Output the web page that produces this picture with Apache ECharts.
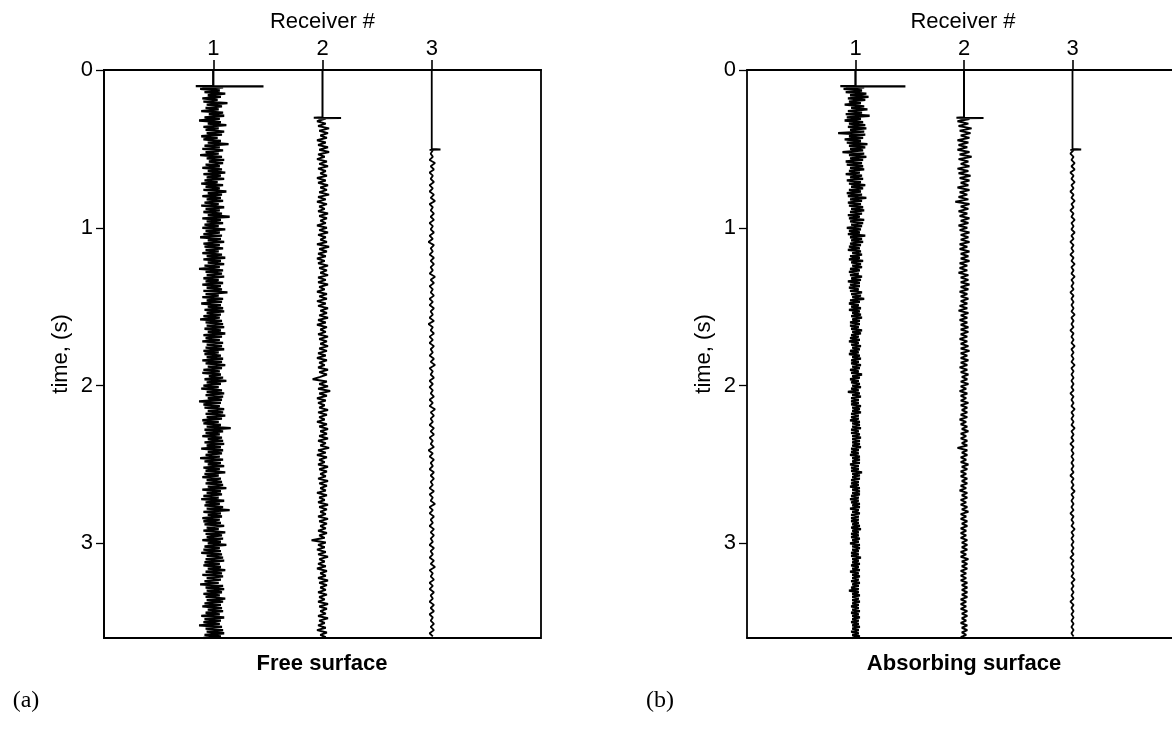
<!DOCTYPE html>
<html>
<head>
<meta charset="utf-8">
<script src="https://cdn.jsdelivr.net/npm/echarts@6/dist/echarts.min.js"></script>
<style>html,body{margin:0;padding:0;background:#fff;}#c{width:1172px;height:733px;}</style>
</head>
<body>
<div id="c"></div>
<script>
// Receivers (trace positions on the x axis) and tick labels
const receivers = [1, 2, 3];
const timeTicks = [0, 1, 2, 3];
const panelTitles = ['Free surface', 'Absorbing surface'];
const panelTags = ['(a)', '(b)'];

// First-arrival times (s) per receiver
const onsets = [0.1, 0.3, 0.5];
// Sample intervals (s) of the recorded trace after the arrival, per receiver
const sampleDt = [0.01, 0.015, 0.02];

// Pulse at first arrival (amplitude, hundredths of trace spacing)
const freePulse1 = [0, -16, 46, -10, 6];
const freePulse2 = [0, -8, 17, -4, 3];
const freePulse3 = [0, 0, 8, -2, 1];
const absPulse1 = [0, -14, 46, -9, 5];
const absPulse2 = [0, -7, 18, -4, 2];
const absPulse3 = [0, 0, 8, -2, 1];

// Trace amplitudes after the arrival (hundredths of trace spacing)
const freeTrace1 = [
 9,-12,6,-8,11,-5,7,-10,4,-9,13,-6,8,-7,5,-11,9,-4,10,-8,6,-13,7,-5,12,
 -9,5,-7,10,-6,8,-11,4,-9,7,-5,14,-8,6,-10,9,-7,5,-12,8,-6,10,-4,9,-7,
 6,-10,8,-5,11,-9,7,-6,10,-8,4,-11,9,-7,6,-9,12,-5,8,-10,7,-6,9,-8,5,
 -11,10,-7,6,-9,8,-5,15,-10,7,-6,9,-8,5,-10,11,-7,6,-9,8,-12,7,-5,10,-9,
 6,-8,9,-7,5,-10,8,-6,11,-9,7,-5,10,-8,6,-13,9,-7,8,-6,10,-9,5,-7,9,
 -10,7,-6,8,-9,13,-7,5,-10,9,-6,8,-11,7,-5,9,-8,10,-6,7,-9,6,-12,8,-7,
 9,-6,10,-8,7,-5,11,-9,8,-7,6,-10,9,-6,8,-7,10,-9,5,-8,7,-6,9,-10,8,
 -7,11,-5,8,-9,6,-10,7,-4,9,-8,12,-6,7,-9,5,-11,8,-6,10,-7,9,-5,8,-13,
 7,-9,6,-8,10,-5,9,-7,11,-6,8,-10,5,-9,7,-6,16,-8,9,-7,6,-10,8,-5,9,
 -8,10,-6,7,-11,9,-5,8,-7,6,-12,9,-8,7,-5,10,-9,6,-7,11,-8,5,-10,7,-6,
 8,-7,9,-5,12,-10,7,-6,8,-9,5,-11,10,-7,6,-8,9,-6,15,-9,7,-5,8,-10,6,
 -9,7,-8,10,-6,5,-9,11,-7,8,-6,9,-10,7,-5,12,-8,6,-9,7,-11,8,-6,9,-7,
 10,-8,6,-9,7,-5,11,-7,8,-10,9,-6,7,-8,5,-12,9,-7,10,-6,8,-9,6,-7,11,
 -6,9,-8,7,-10,8,-5,9,-7,6,-11,10,-8,7,-9,6,-13,8,-7,9,-6,10,-8,7,-9
];
const freeTrace2 = [
 4,-5,3,-4,6,-3,5,-2,4,-5,3,-4,5,-3,6,-4,2,-5,4,-3,5,-4,3,-2,4,
 -5,3,-4,5,-2,4,-3,6,-4,3,-5,4,-3,2,-4,5,-3,4,-2,3,-5,4,-3,5,-4,
 3,-2,4,-5,6,-3,4,-4,3,-5,2,-4,5,-3,4,-2,5,-4,3,-4,5,-3,2,-5,4,
 -3,4,-5,3,-4,5,-2,4,-3,5,-4,3,-5,4,-2,3,-4,5,-3,4,-2,5,-3,4,-4,
 3,-5,4,-3,2,-4,5,-3,4,-2,-9,4,-3,5,-4,7,-3,4,-5,3,-4,2,-3,5,-4,
 4,-3,2,-5,4,-3,5,-2,4,-3,5,-4,3,-2,6,-4,3,-5,4,-3,2,-4,5,-3,4,
 -2,3,-4,5,-3,4,-2,3,-5,4,-3,2,-4,5,-3,4,-2,3,-4,5,-3,4,-2,3,-4,
 4,-3,2,-10,3,-4,2,-5,3,-4,5,-3,2,-4,3,-5,4,-2,3,-4,5,-3,4,-2,3,
 -4,4,-3,2,-4,5,-3,4,-2,3,-4,5,-3,2,-4,3,-5,4,-2,3
];
const freeTrace3 = [
 2,-1,1,-2,3,-1,2,-2,1,-1,2,-2,1,-2,2,-1,3,-2,1,-1,2,-1,2,-2,1,
 -1,2,-2,1,-3,2,-1,1,-2,2,-1,2,-1,1,-2,3,-1,2,-2,1,-1,2,-2,1,-2,
 2,-1,1,-2,2,-3,1,-1,2,-2,1,-2,2,-1,1,-2,2,-1,3,-2,1,-1,2,-2,1,
 -2,1,-1,2,-2,1,-2,3,-1,2,-1,1,-2,2,-1,2,-2,1,-1,2,-3,1,-2,2,-1,
 1,-2,2,-1,2,-1,1,-2,2,-2,1,-1,3,-2,1,-2,2,-1,1,-2,2,-1,2,-1,1,
 -2,2,-1,1,-2,2,-1,3,-2,1,-1,2,-2,1,-2,2,-1,1,-2,2,-1,2,-2,1,-1,
 2,-1,2,-2,1
];
const absTrace1 = [
 8,-11,6,-9,10,-5,12,-7,9,-6,5,-10,8,-4,11,-7,6,-9,13,-8,5,-10,7,-6,9,
 -7,10,-5,8,-16,9,-6,7,-10,5,-8,11,-6,9,-5,7,-12,8,-6,10,-5,7,-9,6,-8,
 7,-5,8,-6,4,-9,6,-5,7,-8,5,-6,9,-4,7,-6,5,-8,6,-7,10,-5,6,-7,5,
 -6,7,-4,8,-5,6,-7,4,-6,8,-5,7,-4,6,-8,5,-6,4,-7,9,-5,6,-4,7,-5,
 5,-6,4,-7,5,-3,6,-5,4,-6,7,-4,5,-3,6,-5,4,-6,3,-5,6,-4,5,-7,4,
 -5,4,-6,3,-5,6,-4,5,-3,8,-5,4,-6,3,-4,5,-6,4,-3,5,-4,6,-3,4,-5,
 4,-5,3,-4,6,-3,5,-4,3,-5,4,-6,3,-4,5,-3,4,-5,3,-6,4,-3,5,-4,3,
 -4,5,-3,4,-5,3,-4,6,-3,4,-5,3,-4,4,-3,5,-4,3,-7,4,-3,5,-4,3,-4,
 3,-4,5,-3,4,-3,5,-4,3,-4,3,-5,4,-3,4,-3,5,-4,3,-4,4,-3,5,-3,4,
 -3,4,-3,5,-4,3,-4,3,-5,4,-3,4,-3,4,-5,3,-4,3,-4,6,-3,4,-3,4,-4,
 3,-4,3,-5,4,-3,4,-3,4,-4,3,-5,3,-4,4,-3,4,-5,3,-3,4,-4,3,-4,3,
 -4,3,-3,4,-4,5,-3,3,-4,3,-4,4,-3,3,-5,4,-3,4,-3,3,-4,3,-4,5,-3,
 3,-3,4,-4,3,-3,4,-5,3,-3,4,-3,3,-4,4,-3,3,-4,3,-6,3,-3,4,-3,3,
 -3,4,-3,3,-4,3,-3,4,-4,3,-3,4,-3,3,-4,3,-3,4,-3,3,-4,3,-3,4,-3
];
const absTrace2 = [
 5,-6,4,-5,7,-4,6,-3,5,-6,4,-5,3,-6,5,-4,7,-5,4,-3,5,-6,4,-5,6,
 -4,5,-3,4,-6,5,-4,3,-5,4,-8,5,-3,4,-5,3,-4,5,-3,4,-5,3,-4,5,-3,
 4,-3,5,-4,3,-4,5,-3,4,-3,5,-4,3,-4,3,-5,4,-3,4,-3,5,-3,4,-4,3,
 -3,4,-3,3,-4,3,-5,4,-3,3,-4,3,-3,4,-3,4,-3,3,-4,3,-3,4,-3,5,-3,
 3,-3,4,-3,3,-4,3,-3,4,-2,3,-3,4,-3,2,-4,3,-3,2,-3,4,-3,3,-2,3,
 -3,3,-4,2,-3,3,-2,4,-3,2,-3,3,-2,3,-6,3,-2,3,-3,2,-3,4,-2,3,-3,
 2,-3,3,-2,3,-3,2,-4,3,-2,3,-3,2,-3,3,-2,4,-3,2,-3,3,-2,3,-3,2,
 -3,2,-3,3,-2,3,-2,3,-3,2,-3,4,-2,3,-2,3,-3,2,-3,2,-3,3,-2,3,-2,
 3,-2,3,-3,2,-3,2,-3,3,-2,3,-2,2,-3,3,-2,3,-2,2,-3
];
const absTrace3 = [
 2,-2,1,-1,2,-1,2,-2,1,-1,2,-1,1,-2,1,-1,2,-1,1,-2,1,-1,2,-1,1,
 -1,2,-1,1,-2,1,-1,1,-2,1,-1,2,-1,1,-1,2,-1,1,-1,1,-2,1,-1,1,-1,
 1,-1,2,-1,1,-1,1,-2,1,-1,1,-1,2,-1,1,-1,1,-1,2,-1,1,-1,1,-1,1,
 -1,1,-2,1,-1,1,-1,2,-1,1,-1,1,-1,2,-1,1,-1,1,-2,1,-1,1,-1,1,-1,
 1,-1,1,-2,1,-1,1,-1,2,-1,1,-1,1,-1,1,-2,1,-1,1,-1,2,-1,1,-1,1,
 -1,1,-1,1,-2,1,-1,1,-1,1,-1,2,-1,1,-1,1,-1,1,-2,1,-1,1,-1,1,-1,
 1,-1,1,-1,1
];

const panels = [
  { pulses: [freePulse1, freePulse2, freePulse3], traces: [freeTrace1, freeTrace2, freeTrace3] },
  { pulses: [absPulse1, absPulse2, absPulse3], traces: [absTrace1, absTrace2, absTrace3] }
];

const FONT = '"Liberation Sans", Arial, Helvetica, sans-serif';
// panel (b) is cut at the right edge of the page: its x range ends where the page ends
const gridDefs = [
  { left: 104, top: 70, width: 437, height: 568, show: true },
  { left: 747, top: 70, right: 0, height: 568, show: false }
];
const xMax = [4, 3.917];
const centers = [322, 964];

function buildTrace(rec, onset, dt, pulse, trace) {
  const pts = [[rec, 0], [rec, onset]];
  pulse.forEach((a, i) => pts.push([rec + a / 100, onset + i * 0.002]));
  trace.forEach((a, i) => pts.push([rec + a / 100, onset + 0.01 + i * dt]));
  return pts;
}

const axisLineStyle = { color: '#000', width: 1.8 };
const grids = [], xAxes = [], yAxes = [], series = [];
panels.forEach((p, pi) => {
  grids.push(Object.assign({ borderColor: '#000', borderWidth: 1.8, backgroundColor: 'transparent', containLabel: false }, gridDefs[pi]));
  xAxes.push({
    gridIndex: pi, type: 'value', position: 'top', min: 0, max: xMax[pi], interval: 1,
    name: 'Receiver #', nameLocation: 'middle', nameGap: 36,
    nameTextStyle: { color: '#000', fontFamily: FONT, fontSize: 22, padding: pi === 1 ? [0, 0, 0, 7] : 0 },
    axisLine: { show: true, lineStyle: axisLineStyle },
    axisTick: { show: true, inside: false, length: 10, customValues: receivers, lineStyle: { color: '#000', width: 1.6 } },
    axisLabel: { show: true, customValues: receivers, margin: 10, color: '#000', fontFamily: FONT, fontSize: 22 },
    splitLine: { show: false }
  });
  yAxes.push({
    gridIndex: pi, type: 'value', inverse: true, min: 0, max: 3.6, interval: 1,
    name: 'time, (s)', nameLocation: 'middle', nameGap: 32, nameRotate: 90,
    nameTextStyle: { color: '#000', fontFamily: FONT, fontSize: 22 },
    axisLine: { show: true, lineStyle: axisLineStyle },
    axisTick: { show: true, inside: false, length: 8, customValues: timeTicks, lineStyle: { color: '#000', width: 1.3 } },
    axisLabel: { show: true, customValues: timeTicks, margin: 11, color: '#000', fontFamily: FONT, fontSize: 22 },
    splitLine: { show: false }
  });
  receivers.forEach((rec, ri) => {
    series.push({
      type: 'line', xAxisIndex: pi, yAxisIndex: pi, symbol: 'none', showSymbol: false,
      animation: false, silent: true, clip: true,
      lineStyle: { color: '#000', width: [2.3, 2.0, 1.8][ri] },
      data: buildTrace(rec, onsets[ri], sampleDt[ri], p.pulses[ri], p.traces[ri])
    });
  });
});
// bottom frame line of panel (b)
xAxes.push({
  gridIndex: 1, type: 'value', position: 'bottom', min: 0, max: xMax[1], interval: 1,
  axisLine: { show: true, lineStyle: axisLineStyle },
  axisTick: { show: false }, axisLabel: { show: false }, splitLine: { show: false }
});

const graphics = [];
panelTitles.forEach((t, i) => graphics.push({
  type: 'text', x: centers[i], y: 664,
  style: { text: t, fill: '#000', font: 'bold 22px ' + FONT, textAlign: 'center', textVerticalAlign: 'middle' }
}));
[[26, 701], [660, 701]].forEach((pos, i) => graphics.push({
  type: 'text', x: pos[0], y: pos[1],
  style: { text: panelTags[i], fill: '#000', font: '24px "Liberation Serif", "DejaVu Serif", serif', textAlign: 'center', textVerticalAlign: 'middle' }
}));

const chart = echarts.init(document.getElementById('c'), null, { renderer: 'canvas' });
chart.setOption({
  backgroundColor: '#fff',
  animation: false,
  textStyle: { fontFamily: FONT, color: '#000' },
  grid: grids, xAxis: xAxes, yAxis: yAxes, series: series,
  graphic: graphics
});
</script>
</body>
</html>
